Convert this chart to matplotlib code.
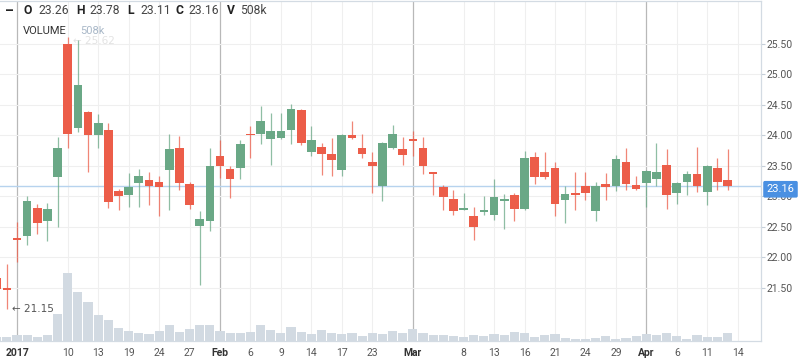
import numpy as np
import pandas as pd
import matplotlib
matplotlib.use("Agg")
import matplotlib.pyplot as plt

plt.rcParams['font.family'] = ['Roboto', 'DejaVu Sans']

# ---- data (trading days, Dec 29 2016 .. Apr 13 2017) ----
holidays = ['2017-01-02', '2017-01-16', '2017-02-20']
dates = [d for d in pd.bdate_range('2016-12-29', '2017-04-13') if d.strftime('%Y-%m-%d') not in holidays]

opens = [21.66, 21.48, 22.30, 22.34, 22.81, 22.59, 23.32, 25.50, 24.12, 24.38, 24.01, 24.08,
         23.09, 23.02, 23.21, 23.26, 23.24, 23.43, 23.80, 23.20, 22.51, 22.59, 23.66, 23.45,
         23.47, 24.02, 24.02, 23.94, 23.95, 24.08, 24.42, 23.73, 23.81, 23.69, 23.43, 24.01,
         23.79, 23.57, 23.16, 23.79, 23.78, 23.93, 23.79, 23.38, 23.15, 22.95, 22.78, 22.68,
         22.74, 22.70, 22.92, 23.02, 22.79, 23.65, 23.39, 23.46, 22.94, 23.06, 23.17, 22.76,
         23.20, 23.16, 23.57, 23.18, 23.21, 23.28, 23.52, 23.05, 23.23, 23.37, 23.07, 23.47, 23.26]
highs = [21.72, 21.88, 22.58, 23.00, 22.87, 22.89, 23.98, 25.62, 25.57, 24.40, 24.35, 24.21,
         23.12, 23.38, 23.44, 23.40, 23.33, 24.02, 23.99, 23.24, 22.76, 23.79, 23.92, 23.50,
         23.93, 24.15, 24.48, 24.37, 24.37, 24.51, 24.43, 24.15, 23.87, 23.95, 24.03, 24.24,
         24.03, 23.73, 23.89, 24.17, 23.97, 24.07, 23.97, 23.40, 23.19, 23.10, 23.05, 22.83,
         23.00, 23.29, 23.03, 23.05, 23.75, 23.72, 23.72, 23.57, 23.17, 23.39, 23.39, 23.24,
         23.38, 23.68, 23.80, 23.34, 23.43, 23.88, 23.78, 23.23, 23.42, 23.81, 23.51, 23.62, 23.78]
lows = [21.40, 21.15, 21.92, 22.20, 22.38, 22.27, 22.50, 23.79, 24.06, 23.39, 23.80, 22.81,
        22.77, 22.83, 22.83, 22.86, 22.68, 22.77, 23.10, 22.79, 21.54, 22.43, 23.30, 22.97,
        23.28, 23.63, 23.85, 23.51, 23.94, 23.86, 23.84, 23.66, 23.35, 23.34, 23.33, 23.94,
        23.62, 23.05, 22.92, 23.78, 23.51, 23.66, 23.37, 23.02, 22.77, 22.69, 22.77, 22.28,
        22.70, 22.61, 22.46, 22.59, 22.78, 23.20, 23.29, 22.67, 22.56, 22.77, 22.94, 22.59,
        22.94, 23.09, 23.11, 23.11, 22.83, 23.17, 22.79, 22.87, 23.02, 23.07, 22.86, 23.10, 23.11]
closes = [21.47, 21.46, 22.28, 22.93, 22.56, 22.79, 23.79, 24.03, 24.83, 24.00, 24.21, 22.90,
          23.00, 23.15, 23.33, 23.17, 23.15, 23.77, 23.22, 22.86, 22.62, 23.50, 23.49, 23.28,
          23.86, 24.00, 24.24, 24.07, 24.07, 24.43, 23.87, 23.93, 23.70, 23.60, 24.01, 23.95,
          23.69, 23.50, 23.88, 24.02, 23.68, 23.91, 23.49, 23.36, 22.98, 22.75, 22.81, 22.50,
          22.77, 22.99, 22.94, 22.79, 23.63, 23.31, 23.32, 22.87, 23.04, 23.02, 23.05, 23.17,
          23.15, 23.61, 23.20, 23.12, 23.42, 23.39, 23.02, 23.22, 23.37, 23.16, 23.50, 23.23, 23.16]
volumes_k = [273, 273, 381, 381, 273, 381, 1715, 4337, 3131, 2457, 1651, 1334,
             845, 635, 508, 445, 654, 1016, 591, 762, 1016, 1016, 635, 527,
             527, 591, 1016, 700, 489, 870, 552, 425, 680, 489, 425, 489,
             298, 489, 425, 616, 489, 743, 489, 362, 362, 298, 235, 362,
             298, 425, 362, 552, 489, 254, 381, 445, 191, 127, 127, 191,
             318, 127, 191, 318, 445, 381, 508, 318, 127, 381, 254, 254, 508]

tick_dates = ['2017-01-03', '2017-01-10', '2017-01-13', '2017-01-19', '2017-01-24', '2017-01-27',
              '2017-02-01', '2017-02-06', '2017-02-09', '2017-02-14', '2017-02-17', '2017-02-23',
              '2017-03-01', '2017-03-08', '2017-03-13', '2017-03-16', '2017-03-21', '2017-03-24',
              '2017-03-29', '2017-04-03', '2017-04-06', '2017-04-11', '2017-04-14']
tick_labels = ['2017', '10', '13', '19', '24', '27', 'Feb', '6', '9', '14', '17', '23',
               'Mar', '8', '13', '16', '21', '24', '29', 'Apr', '6', '11', '14']
major_labels = ['2017', 'Feb', 'Mar', 'Apr']
price_ticks = [21.5, 22.0, 22.5, 23.0, 23.5, 24.0, 24.5, 25.0, 25.5]
last_price = 23.16

# ---- positions ----
date_str = [d.strftime('%Y-%m-%d') for d in dates]
pos = np.arange(len(dates))
def date_pos(s):
    if s in date_str:
        return date_str.index(s)
    return len(date_str) + (pd.Timestamp(s) - dates[-1]).days - 1  # next slot
tick_pos = [date_pos(s) for s in tick_dates]

o = np.array(opens); h = np.array(highs); l = np.array(lows); c = np.array(closes)
up = c >= o
GREEN = '#6aa886'
RED = '#ec5d49'
cols = np.where(up, GREEN, RED)

W, H = 798, 363
fig = plt.figure(figsize=(W / 100, H / 100), dpi=100)
rect = [0, 22 / H, 761 / W, 340 / H]
axv = fig.add_axes(rect)
ax = fig.add_axes(rect, sharex=axv)
ax.set_zorder(axv.get_zorder() + 1)
ax.patch.set_visible(False)

xlim = (0.325, 75.30)

# volume axis
axv.bar(pos, volumes_k, width=0.9, color='#d2dae2', zorder=2)
axv.set_ylim(0, 340 * 63.5)
axv.set_xlim(*xlim)
axv.set_yticks([])
for s in axv.spines.values():
    s.set_visible(False)
axv.tick_params(axis='x', length=0, labelbottom=False)
for tp, lab in zip(tick_pos, tick_labels):
    if lab in major_labels:
        axv.axvline(tp, color='#b8b8b8', lw=0.9, zorder=1)
    else:
        axv.axvline(tp, color='#efefef', lw=0.8, zorder=1)
for pt in price_ticks:
    axv.axhline((pt - 20.623) / (26.206 - 20.623) * 340 * 63.5, color='#efefef', lw=0.8, zorder=1)

# price axis
ax.vlines(pos, l, h, colors=cols, lw=0.9, alpha=0.75, zorder=3)
body = np.maximum(np.abs(c - o), 0.03)
ax.bar(pos, body, bottom=np.minimum(o, c), width=0.85, color=cols, zorder=4)
ax.axhline(last_price, color='#b7d3ee', lw=1.0, zorder=2)

ax.set_xlim(*xlim)
ax.set_ylim(20.623, 26.206)
ax.yaxis.tick_right()
ax.set_yticks(price_ticks)
ax.set_yticklabels([f'{v:.2f}' for v in price_ticks])
ax.tick_params(axis='y', length=3, width=0.8, color='#c5ced8', labelcolor='#555555',
               labelsize=7.5, pad=1)
ax.set_xticks(tick_pos)
ax.set_xticklabels(tick_labels)
ax.tick_params(axis='x', length=0, labelsize=7.5, labelcolor='#555555', pad=5)
for t in ax.get_xticklabels():
    if t.get_text() in major_labels:
        t.set_fontweight('bold')
        t.set_color('#333333')
ax.spines['left'].set_visible(False)
for side in ['top', 'bottom', 'right']:
    ax.spines[side].set_color('#d3dbe3')
    ax.spines[side].set_linewidth(0.9)

# last price tag
ax.annotate(f'{last_price:.2f}', xy=(1, last_price), xycoords=('axes fraction', 'data'),
            xytext=(4, -2), textcoords='offset points', ha='left', va='center',
            fontsize=8, color='white',
            bbox=dict(boxstyle='round,pad=0.3,rounding_size=0.15', fc='#4a90e2', ec='none'),
            annotation_clip=False, zorder=10)

# min / max markers
imin = int(np.argmin(l))
ax.annotate(f'\u2190 {l[imin]:.2f}', xy=(pos[imin] + 0.25, l[imin]), xytext=(2, 0),
            textcoords='offset points', ha='left', va='center', fontsize=7.5,
            color='#555555', family=['DejaVu Sans'])
imax = int(np.argmax(h))
ax.annotate(f'\u2190 {h[imax]:.2f}', xy=(pos[imax] + 0.25, h[imax]), xytext=(2, -3),
            textcoords='offset points', ha='left', va='center', fontsize=7.5,
            color='#d0d0d0', alpha=0.6, family=['DejaVu Sans'], zorder=1)

# header
def ftext(x, y, s, **kw):
    return fig.text(x / W, 1 - y / H, s, va='center', ha='left', **kw)

ftext(5, 11, '\u2013', fontsize=10, fontweight='bold', color='#222222')
hdr = [('O', 23, f'{opens[-1]:.2f}', 38), ('H', 76, f'{highs[-1]:.2f}', 89),
       ('L', 127, f'{lows[-1]:.2f}', 140), ('C', 176, f'{closes[-1]:.2f}', 188),
       ('V', 227, f'{volumes_k[-1]}k', 240)]
for lab, xl, val, xv in hdr:
    ftext(xl, 11, lab, fontsize=8.7, fontweight='bold', color='#222222')
    ftext(xv, 11, val, fontsize=8.7, color='#444444')
ftext(23, 31, 'VOLUME', fontsize=8, color='#333333',
      bbox=dict(fc='white', ec='none', pad=0.5))
ftext(80, 31, f'{volumes_k[-1]}k', fontsize=8, color='#a9b8c8')

fig.savefig('out.png', dpi=100)
